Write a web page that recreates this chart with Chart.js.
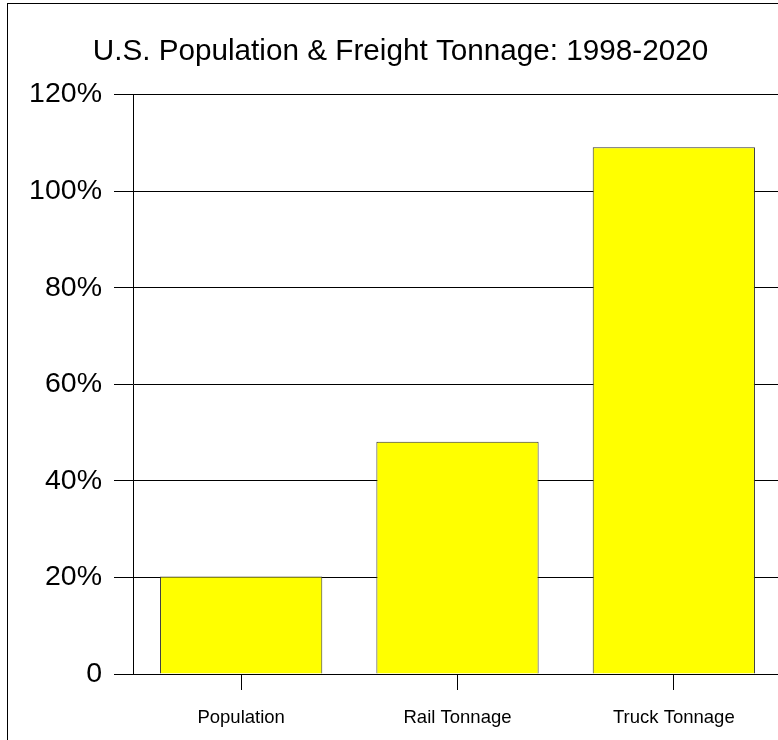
<!DOCTYPE html>
<html>
<head>
<meta charset="utf-8">
<script src="https://cdn.jsdelivr.net/npm/chart.js@4.4.0/dist/chart.umd.min.js"></script>
<style>
  html, body { margin: 0; padding: 0; background: #fff; overflow: hidden; }
  #wrap { width: 778px; height: 740px; overflow: hidden; }
</style>
</head>
<body>
<div id="wrap"><canvas id="myChart" width="790" height="740"></canvas></div>
<script>
// Chart data
const categories = ["Population", "Rail Tonnage", "Truck Tonnage"];
const growthValues = [20.2, 48.1, 109.1]; // % growth 1998-2020
const yTicks = [0, 20, 40, 60, 80, 100, 120];

const FONT = "'Liberation Sans', Arial, sans-serif";

// outer frame around the whole picture
const framePlugin = {
  id: 'frame',
  afterDraw(chart) {
    const c = chart.ctx;
    c.save();
    c.strokeStyle = '#000';
    c.lineWidth = 1;
    c.strokeRect(7.5, 3.5, chart.width + 20, chart.height + 20);
    c.restore();
  }
};

const ctx = document.getElementById('myChart');

new Chart(ctx, {
  type: 'bar',
  data: {
    labels: categories,
    datasets: [{
      data: growthValues,
      backgroundColor: '#ffff00',
      borderColor: '#333333',
      borderWidth: 1,
      barPercentage: 0.75,
      categoryPercentage: 1.0
    }]
  },
  options: {
    responsive: false,
    animation: false,
    layout: { padding: { left: 19, right: 8, top: 0, bottom: 0 } },
    plugins: {
      legend: { display: false },
      tooltip: { enabled: false },
      title: {
        display: true,
        text: 'U.S. Population & Freight Tonnage: 1998-2020',
        color: '#000',
        font: { family: FONT, size: 29.7, weight: 'normal', lineHeight: 1.2 },
        padding: { top: 34, bottom: 25 }
      }
    },
    scales: {
      x: {
        grid: {
          offset: false,
          drawOnChartArea: false,
          drawTicks: true,
          tickLength: 16,
          color: '#000'
        },
        border: { display: true, color: '#000', width: 1 },
        ticks: {
          color: '#000',
          padding: 17,
          font: { family: FONT, size: 18.5 }
        },
        afterFit(scale) { scale.height = 66; }
      },
      y: {
        min: 0,
        max: 120,
        afterBuildTicks(scale) {
          scale.ticks = yTicks.map(v => ({ value: v }));
        },
        grid: {
          color: '#000',
          lineWidth: 1,
          tickLength: 19
        },
        border: { display: true, color: '#000', width: 1 },
        ticks: {
          color: '#000',
          padding: 12,
          font: { family: FONT, size: 28.5 },
          callback: v => v === 0 ? '0' : v + '%'
        },
        afterFit(scale) { scale.width = 114; }
      }
    }
  },
  plugins: [framePlugin]
});
</script>
</body>
</html>
